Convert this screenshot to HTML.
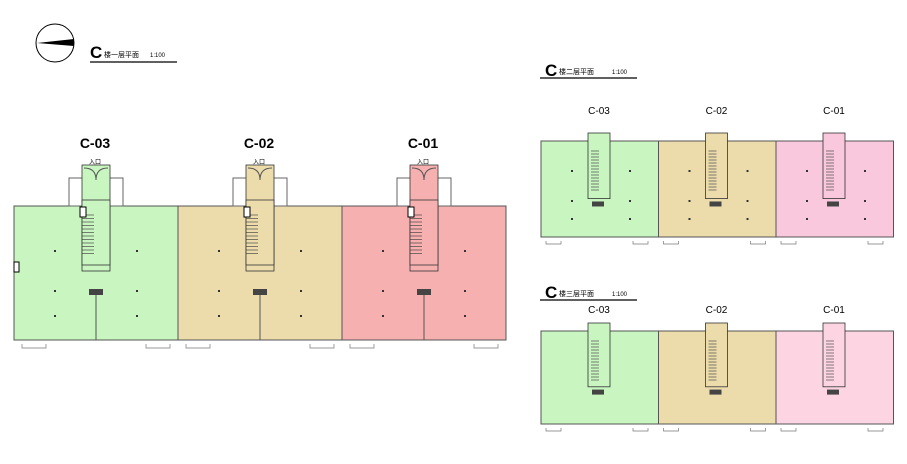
<!DOCTYPE html>
<html><head><meta charset="utf-8"><style>
html,body{margin:0;padding:0;background:#fff;width:907px;height:464px;overflow:hidden}
svg{display:block}
text{font-family:"Liberation Sans","Noto Sans CJK SC",sans-serif}
</style></head><body>
<svg id="s" width="907" height="464" viewBox="0 0 907 464">
<circle cx="55" cy="43" r="19" fill="#fff" stroke="#000" stroke-width="1"/>
<polygon points="37,43 74,39 74,46" fill="#000"/>
<text x="90" y="58" font-size="17" font-weight="bold">C</text>
<text x="104" y="57" font-size="7">楼一层平面</text><text x="150" y="57" font-size="6">1:100</text>
<line x1="90" y1="62" x2="177" y2="62" stroke="#000" stroke-width="1.3"/>
<text x="545" y="76" font-size="17" font-weight="bold">C</text>
<text x="559" y="74" font-size="7">楼二层平面</text><text x="612" y="74" font-size="6">1:100</text>
<line x1="540" y1="78" x2="637" y2="78" stroke="#000" stroke-width="1.3"/>
<text x="545" y="298" font-size="17" font-weight="bold">C</text>
<text x="559" y="296" font-size="7">楼三层平面</text><text x="612" y="296" font-size="6">1:100</text>
<line x1="540" y1="300" x2="637" y2="300" stroke="#000" stroke-width="1.3"/>
</svg>
<script>
var s=document.getElementById('s'),ns='http://www.w3.org/2000/svg';
function e(t,a,txt){var n=document.createElementNS(ns,t);for(var k in a)n.setAttribute(k,a[k]);if(txt)n.textContent=txt;s.appendChild(n);return n;}
var g=[['#c8f5c0',14,'C-03'],['#ecdcac',178,'C-02'],['#f7b0b0',342,'C-01']];
g.forEach(function(u){var x=u[1],w=164,c=u[0];
 e('rect',{x:x,y:206,width:w,height:134,fill:c,stroke:'#555','stroke-width':1});
 e('rect',{x:x+55,y:178,width:54,height:28,fill:'none',stroke:'#666','stroke-width':1});
 e('rect',{x:x+68,y:165,width:28,height:106,fill:c,stroke:'#333','stroke-width':0.8});
 e('rect',{x:x+68,y:200,width:28,height:65,fill:c,stroke:'#333','stroke-width':0.8});
 e('path',{d:'M'+(x+70)+' 168 q12 0 12 12 q0 -12 12 -12',fill:'none',stroke:'#555'});
 for(var i=0;i<12;i++)e('line',{x1:x+68,x2:x+80,y1:215+i*3.5,y2:215+i*3.5,stroke:'#333','stroke-width':0.6});
 e('rect',{x:x+66,y:207,width:6,height:10,fill:'#fff',stroke:'#000'});
 e('rect',{x:x+75,y:289,width:14,height:6,fill:'#444'});
 e('line',{x1:x+82,x2:x+82,y1:295,y2:340,stroke:'#555'});
 [[40,250],[40,290],[40,315],[122,250],[122,290],[122,315]].forEach(function(p){e('rect',{x:x+p[0],y:p[1],width:2,height:2,fill:'#333'})});
 e('text',{x:x+81,y:148,'font-size':14,'font-weight':'bold','text-anchor':'middle'},u[2]);
 e('text',{x:x+81,y:164,'font-size':6,'text-anchor':'middle'},'入口');
 e('path',{d:'M'+(x+8)+' 344 v4 h24 v-4 M'+(x+132)+' 344 v4 h24 v-4',fill:'none',stroke:'#777','stroke-width':0.7});
});
e('rect',{x:14,y:262,width:5,height:10,fill:'#fff',stroke:'#000'});
function up(y0,h,cols,lbly,top){
 cols.forEach(function(u,i){var x=541+i*117.5,c=u[0];
  e('rect',{x:x,y:y0,width:117.5,height:h,fill:c,stroke:'#555','stroke-width':1});
  e('rect',{x:x+47,y:top,width:22,height:y0+(h*0.6)-top,fill:c,stroke:'#333','stroke-width':0.8});
  for(var k=0;k<14;k++)e('line',{x1:x+50,x2:x+58,y1:y0+10+k*3,y2:y0+10+k*3,stroke:'#333','stroke-width':0.6});
  e('rect',{x:x+51,y:y0+h*0.63,width:12,height:5,fill:'#444'});
  e('text',{x:x+58,y:lbly,'font-size':10,'text-anchor':'middle'},u[1]);
  e('path',{d:'M'+(x+5)+' '+(y0+h+4)+' v3 h15 v-3 M'+(x+92)+' '+(y0+h+4)+' v3 h15 v-3',fill:'none',stroke:'#777','stroke-width':0.7});
 });
}
up(141,96,[['#c8f5c0','C-03'],['#ecdcac','C-02'],['#f9c8dc','C-01']],114,133);
up(331,93,[['#c8f5c0','C-03'],['#ecdcac','C-02'],['#fcd4e2','C-01']],313,323);
for(var i=0;i<3;i++){var x=541+i*117.5;[[30,170],[30,200],[30,218],[88,170],[88,200],[88,218]].forEach(function(p){e('rect',{x:x+p[0],y:p[1],width:2,height:2,fill:'#333'})});}
</script>
</body></html>
